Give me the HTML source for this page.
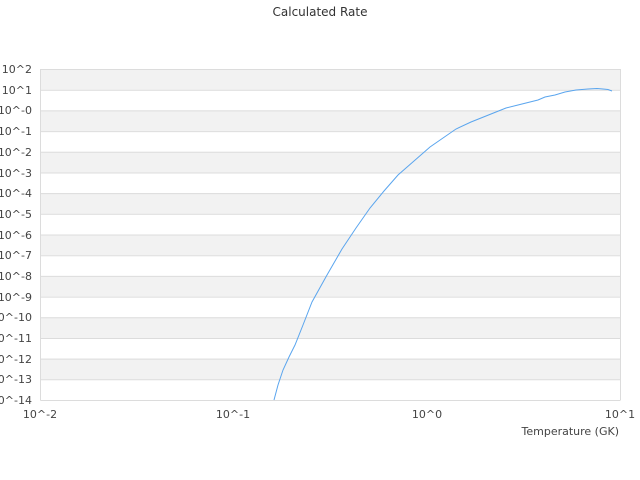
<!DOCTYPE html>
<html><head><meta charset="utf-8"><style>
html,body{margin:0;padding:0;background:#fff;}
svg{display:block;font-family:"DejaVu Sans","Liberation Sans",sans-serif;}
</style></head><body>
<svg width="640" height="480" viewBox="0 0 640 480">
<text x="320" y="16" font-size="12" fill="#333" text-anchor="middle">Calculated Rate</text>
<g fill="#f2f2f2">
<rect x="40.5" y="69" width="580" height="20.69"/>
<rect x="40.5" y="110.4" width="580" height="20.69"/>
<rect x="40.5" y="151.8" width="580" height="20.69"/>
<rect x="40.5" y="193.1" width="580" height="20.69"/>
<rect x="40.5" y="234.5" width="580" height="20.69"/>
<rect x="40.5" y="275.9" width="580" height="20.69"/>
<rect x="40.5" y="317.3" width="580" height="20.69"/>
<rect x="40.5" y="358.6" width="580" height="20.69"/>
</g>
<g stroke="#dcdcdc" stroke-width="1">
<line x1="40.5" x2="620" y1="69.5" y2="69.5"/><line x1="40.5" x2="620" y1="90.2" y2="90.2"/>
<line x1="40.5" x2="620" y1="110.9" y2="110.9"/><line x1="40.5" x2="620" y1="131.6" y2="131.6"/>
<line x1="40.5" x2="620" y1="152.3" y2="152.3"/><line x1="40.5" x2="620" y1="173" y2="173"/>
<line x1="40.5" x2="620" y1="193.6" y2="193.6"/><line x1="40.5" x2="620" y1="214.3" y2="214.3"/>
<line x1="40.5" x2="620" y1="235" y2="235"/><line x1="40.5" x2="620" y1="255.7" y2="255.7"/>
<line x1="40.5" x2="620" y1="276.4" y2="276.4"/><line x1="40.5" x2="620" y1="297.1" y2="297.1"/>
<line x1="40.5" x2="620" y1="317.8" y2="317.8"/><line x1="40.5" x2="620" y1="338.5" y2="338.5"/>
<line x1="40.5" x2="620" y1="359.1" y2="359.1"/><line x1="40.5" x2="620" y1="379.8" y2="379.8"/>
<line x1="40.5" x2="620" y1="400.5" y2="400.5"/>
<line x1="40.5" x2="40.5" y1="69" y2="400.5"/>
<line x1="620.5" x2="620.5" y1="69" y2="400.5"/>
</g>
<g font-size="11" fill="#444" text-anchor="end">
<text x="32" y="73">10^2</text><text x="32" y="94">10^1</text><text x="32" y="114">10^-0</text>
<text x="32" y="135">10^-1</text><text x="32" y="156">10^-2</text><text x="32" y="177">10^-3</text>
<text x="32" y="197">10^-4</text><text x="32" y="218">10^-5</text><text x="32" y="239">10^-6</text>
<text x="32" y="259">10^-7</text><text x="32" y="280">10^-8</text><text x="32" y="301">10^-9</text>
<text x="32" y="321">10^-10</text><text x="32" y="342">10^-11</text><text x="32" y="363">10^-12</text>
<text x="32" y="383">10^-13</text><text x="32" y="404">10^-14</text>
</g>
<g font-size="11" fill="#444" text-anchor="middle">
<text x="40" y="418">10^-2</text><text x="233" y="418">10^-1</text>
<text x="427" y="418">10^0</text><text x="620" y="418">10^1</text>
</g>
<text x="619" y="435" font-size="11" fill="#444" text-anchor="end">Temperature (GK)</text>
<polyline fill="none" stroke="#5aa5ee" stroke-width="1" points="274,400 278,385 283,370 289,357 295,345 303,325 312,302 327,275 342,249 356,228 370,208 384,191 398,175 414,161 430,147 443,138 456,129 471,122 486,116 496,112 506,108 518,105 530,102 538,100 545,97 555,95 565,92 576,90 588,89 597,88.5 603,89 608,89.5 612,91"/>
</svg>
</body></html>
